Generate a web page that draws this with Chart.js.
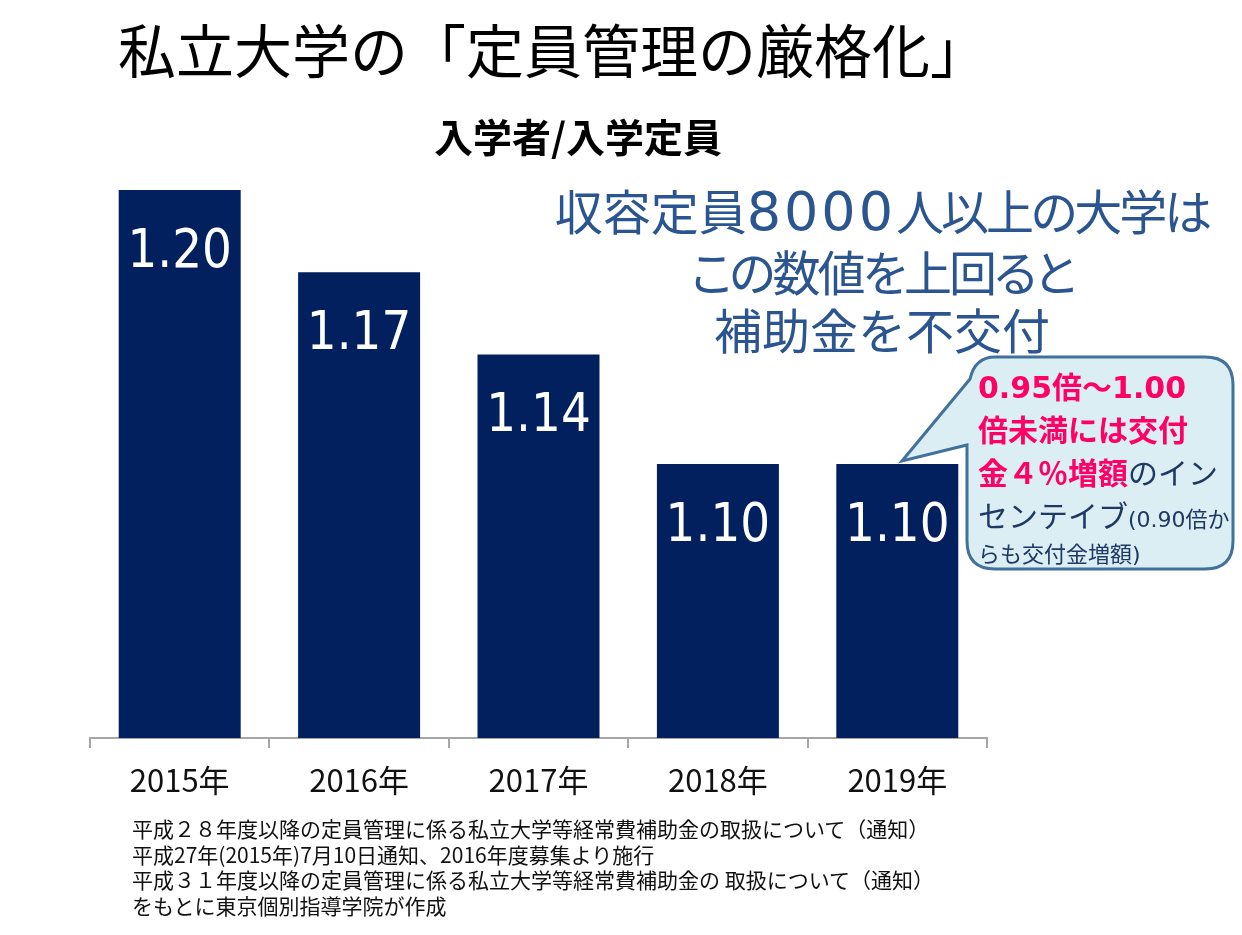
<!DOCTYPE html>
<html lang="ja">
<head>
<meta charset="utf-8">
<title>私立大学の「定員管理の厳格化」</title>
<script src="https://cdn.jsdelivr.net/npm/chart.js@4/dist/chart.umd.min.js"></script>
<style>
  html, body { margin: 0; padding: 0; background: #fff; }
  body { width: 1242px; height: 935px; position: relative; overflow: hidden;
         font-family: "Noto Sans CJK JP", "Noto Sans", sans-serif; }
  #grafico { position: absolute; left: 0; top: 0; }
  .abs { position: absolute; white-space: nowrap; }
  #titulo { left: 118px; top: 12px; font-size: 58px; line-height: 72px; color: #000; }
  #subtitulo { left: 378px; width: 400px; text-align: center; top: 111px; font-size: 39px;
               line-height: 48px; font-weight: bold; color: #000; }
  #aviso { left: 532px; width: 700px; text-align: center; top: 180px; font-size: 48px;
           line-height: 58px; color: #2A5590; }
  #aviso .num { font-family: "DejaVu Sans", sans-serif; font-size: 54px; letter-spacing: 3px; line-height: 58px; }
  #aviso .prop { font-feature-settings: "palt"; letter-spacing: -3px; }
  #globo { position: absolute; left: 0; top: 0; }
  #globoTexto { left: 978px; top: 366px; color: #1F3864;
                font-family: "DejaVu Sans", "Noto Sans CJK JP", sans-serif; }
  #globoTexto div { height: 43px; line-height: 43px; font-size: 30px; }
  #globoTexto .rosa { color: #FF0066; font-weight: bold; }
  #globoTexto .chico { font-size: 22px; }
  #globoTexto .ult { height: 34px; line-height: 34px; }
  #nota { left: 132px; top: 816px; font-size: 21px; line-height: 25.5px; color: #111; }
</style>
</head>
<body>
<canvas id="grafico" width="1242" height="935"></canvas>

<div id="titulo" class="abs">私立大学の「定員管理の厳格化」</div>
<div id="subtitulo" class="abs">入学者/入学定員</div>
<div id="aviso" class="abs">収容定員<span class="num">8000</span><span class="prop">人以上の大学は</span><br><span class="prop">この数値を上回ると</span><br>補助金を不交付</div>

<svg id="globo" width="1242" height="935">
  <path d="M 995 357 H 1205 Q 1233 357 1233 385 V 541 Q 1233 569 1205 569 H 995 Q 967 569 967 541 V 445 L 902 461 L 970 379 Q 975 357 995 357 Z"
        fill="#DAEEF3" stroke="#41719C" stroke-width="3"/>
</svg>
<div id="globoTexto" class="abs">
  <div class="rosa">0.95倍～1.00</div>
  <div class="rosa">倍未満には交付</div>
  <div><span class="rosa">金４％増額</span>のイン</div>
  <div>センテイブ<span class="chico">(0.90倍か</span></div>
  <div class="chico ult">らも交付金増額)</div>
</div>

<div id="nota" class="abs">平成２８年度以降の定員管理に係る私立大学等経常費補助金の取扱について（通知）<br>平成27年(2015年)7月10日通知、2016年度募集より施行<br>平成３１年度以降の定員管理に係る私立大学等経常費補助金の 取扱について（通知）<br>をもとに東京個別指導学院が作成</div>

<script>
// Datos del grafico
const anios = ['2015年', '2016年', '2017年', '2018年', '2019年'];
const ratios = [1.20, 1.17, 1.14, 1.10, 1.10];
const ejeMin = 1.0;
const ejeMax = 1.2;

const colorBarra = '#02205E';

// Etiquetas blancas dentro de cada barra
const etiquetasBarras = {
  id: 'etiquetasBarras',
  afterDatasetsDraw(chart) {
    const ctx = chart.ctx;
    const meta = chart.getDatasetMeta(0);
    ctx.save();
    ctx.fillStyle = '#fff';
    ctx.textAlign = 'center';
    ctx.textBaseline = 'alphabetic';
    ctx.font = '47px "DejaVu Sans"';
    meta.data.forEach((barra, i) => {
      ctx.save();
      ctx.translate(barra.x, barra.y + 77);
      ctx.scale(1, 1.15);
      ctx.fillText(ratios[i].toFixed(2), 0, 0);
      ctx.restore();
    });
    ctx.restore();
  }
};

const ctx = document.getElementById('grafico').getContext('2d');
new Chart(ctx, {
  type: 'bar',
  data: {
    labels: anios,
    datasets: [{
      label: '入学者/入学定員',
      data: ratios,
      backgroundColor: colorBarra,
      borderWidth: 0,
      barPercentage: 0.68,
      categoryPercentage: 1
    }]
  },
  options: {
    responsive: false,
    animation: false,
    devicePixelRatio: 1,
    layout: { padding: { left: 90, right: 255, top: 190, bottom: 0 } },
    plugins: {
      legend: { display: false },
      tooltip: { enabled: false }
    },
    scales: {
      x: {
        grid: {
          offset: true,
          drawOnChartArea: false,
          drawTicks: true,
          tickLength: 10,
          color: '#A6A6A6',
          lineWidth: 2
        },
        border: { display: true, color: '#A6A6A6', width: 2 },
        ticks: {
          color: '#111',
          padding: 14,
          font: { family: '"Noto Sans CJK JP", sans-serif', size: 31 }
        },
        afterFit: (scale) => { scale.height = 197; }
      },
      y: {
        display: false,
        min: ejeMin,
        max: ejeMax
      }
    }
  },
  plugins: [etiquetasBarras]
});
</script>
</body>
</html>
